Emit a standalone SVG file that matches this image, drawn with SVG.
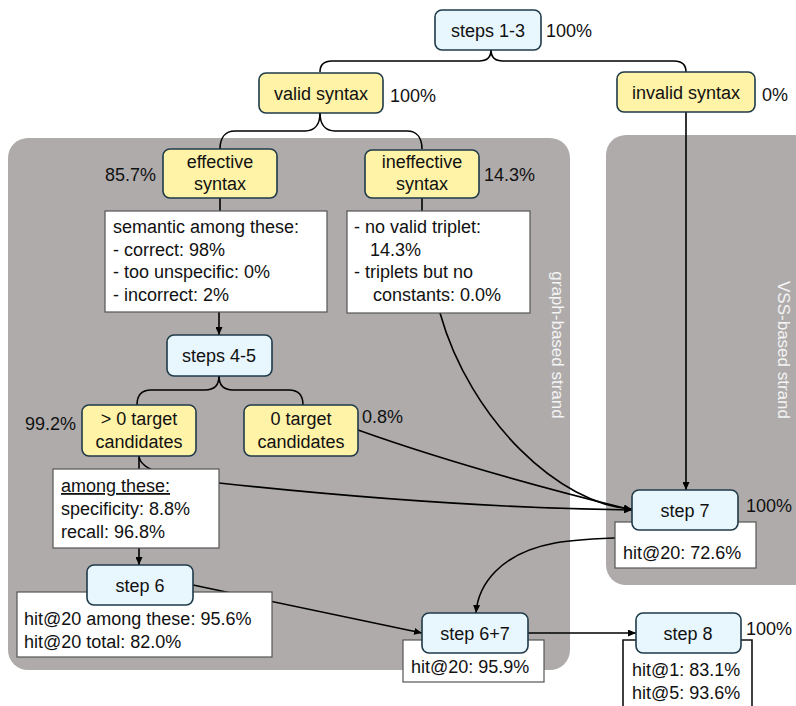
<svg xmlns="http://www.w3.org/2000/svg" width="796" height="706" viewBox="0 0 796 706">
<defs>
<marker id="arr" markerWidth="8" markerHeight="7" refX="8" refY="3.5" orient="auto" markerUnits="userSpaceOnUse"><path d="M0,0 L8,3.5 L0,7 z" fill="#000"/></marker>
<style>
text{font-family:"Liberation Sans",Arial,sans-serif;font-size:18px;fill:#111}
.node{stroke:#1f3a49;stroke-width:1.6}
.blue{fill:#e8f6fd}
.yel{fill:#fff3a8}
.box{fill:#fff;stroke:#555;stroke-width:1.2}
.panel{fill:#afabab}
.c{fill:none;stroke:#000;stroke-width:1.6}
.mid{text-anchor:middle}
.strand{fill:#f4f4f4;font-size:17px;text-anchor:middle}
</style>
</defs>
<rect width="796" height="706" fill="#fff"/>
<g id="panels">
<rect class="panel" x="8" y="138" width="562" height="532" rx="20"/>
<rect class="panel" x="606" y="135" width="210" height="450" rx="20"/>
<text class="strand" transform="translate(552,345) rotate(90)">graph-based strand</text>
<text class="strand" transform="translate(778,350) rotate(90)">VSS-based strand</text>
</g>
<g id="connectors">
<path class="c" d="M491,50 C491,58 487,61 479,61 H332 C324,61 320,65 320,72"/>
<path class="c" d="M491,50 C491,58 495,61 503,61 H674 C682,61 686,65 686,72"/>
<path class="c" d="M320,113 C320,124 315,131 305,131 H235 C225,131 220,138 220,149"/>
<path class="c" d="M320,113 C320,124 325,131 335,131 H407 C417,131 422,138 422,149"/>
<path class="c" d="M220,198 V211"/>
<path class="c" d="M422,198 V211"/>
<path class="c" d="M219,312 V335" marker-end="url(#arr)"/>
<path class="c" d="M219,376 C219,385 215,390 205,390 H151 C141,390 137,396 137,405"/>
<path class="c" d="M219,376 C219,385 223,390 233,390 H289 C299,390 303,396 303,405"/>
<path class="c" d="M139,456 V469"/>
<path class="c" d="M139,548 V565" marker-end="url(#arr)"/>
<path class="c" d="M686,112 V490" marker-end="url(#arr)"/>
<path class="c" d="M440,313 C470,420 560,505 632,509" marker-end="url(#arr)"/>
<path class="c" d="M139,456 C140,470 165,477 219,483 C330,495 480,508 632,510" marker-end="url(#arr)"/>
<path class="c" d="M358,430 Q470,470 632,510" marker-end="url(#arr)"/>
<path class="c" d="M685,531 C670,540 600,535 555,543 C500,553 478,585 476,613" marker-end="url(#arr)"/>
<path class="c" d="M193,585 L422,633" marker-end="url(#arr)"/>
<path class="c" d="M528,633 H636" marker-end="url(#arr)"/>
</g>
<g id="box-semantic">
<rect class="box" x="105" y="211" width="222" height="101"/>
<text x="113" y="233">semantic among these:</text>
<text x="113" y="256">- correct: 98%</text>
<text x="113" y="278">- too unspecific: 0%</text>
<text x="113" y="301">- incorrect: 2%</text>
</g>
<g id="box-ineffective">
<rect class="box" x="347" y="211" width="183" height="102"/>
<text x="354" y="233">- no valid triplet:</text>
<text x="370" y="256">14.3%</text>
<text x="354" y="278">- triplets but no</text>
<text x="373" y="301">constants: 0.0%</text>
</g>
<g id="box-among">
<rect class="box" x="53" y="469" width="166" height="79"/>
<text x="61" y="492" text-decoration="underline">among these:</text>
<text x="61" y="515">specificity: 8.8%</text>
<text x="61" y="538">recall: 96.8%</text>
</g>
<g id="box-hit6">
<rect class="box" x="17" y="592" width="255" height="65"/>
<text x="24" y="625">hit@20 among these: 95.6%</text>
<text x="24" y="648">hit@20 total: 82.0%</text>
</g>
<g id="box-hit67">
<rect class="box" x="403" y="640" width="141" height="42"/>
<text x="411" y="673">hit@20: 95.9%</text>
</g>
<g id="box-hit7">
<rect class="box" x="615" y="522" width="141" height="46"/>
<text x="623" y="559">hit@20: 72.6%</text>
</g>
<g id="box-hit8">
<path d="M623,706 V640 H752 V706" fill="#fff" stroke="#111" stroke-width="1.6"/>
<text x="632" y="676">hit@1: 83.1%</text>
<text x="632" y="699">hit@5: 93.6%</text>
</g>
<g id="steps13">
<rect class="node blue" x="435" y="10" width="106" height="40" rx="7"/>
<text class="mid" x="488" y="37">steps 1-3</text>
<text x="546" y="37">100%</text>
</g>
<g id="valid">
<rect class="node yel" x="259" y="73" width="124" height="40" rx="7"/>
<text class="mid" x="321" y="100">valid syntax</text>
<text x="390" y="102">100%</text>
</g>
<g id="invalid">
<rect class="node yel" x="617" y="72" width="138" height="40" rx="7"/>
<text class="mid" x="686" y="99">invalid syntax</text>
<text x="762" y="101">0%</text>
</g>
<g id="effective">
<rect class="node yel" x="163" y="149" width="114" height="49" rx="7"/>
<text class="mid" x="220" y="168">effective</text>
<text class="mid" x="220" y="190">syntax</text>
<text x="105" y="181">85.7%</text>
</g>
<g id="ineffective">
<rect class="node yel" x="365" y="150" width="114" height="48" rx="7"/>
<text class="mid" x="422" y="168">ineffective</text>
<text class="mid" x="422" y="190">syntax</text>
<text x="484" y="181">14.3%</text>
</g>
<g id="steps45">
<rect class="node blue" x="167" y="335" width="105" height="41" rx="7"/>
<text class="mid" x="219" y="362">steps 4-5</text>
</g>
<g id="gt0">
<rect class="node yel" x="82" y="405" width="114" height="51" rx="7"/>
<text class="mid" x="139" y="425">&gt; 0 target</text>
<text class="mid" x="139" y="448">candidates</text>
<text x="25" y="430">99.2%</text>
</g>
<g id="zero">
<rect class="node yel" x="244" y="405" width="114" height="51" rx="7"/>
<text class="mid" x="301" y="425">0 target</text>
<text class="mid" x="301" y="448">candidates</text>
<text x="362" y="423">0.8%</text>
</g>
<g id="step6">
<rect class="node blue" x="87" y="565" width="106" height="40" rx="7"/>
<text class="mid" x="140" y="592">step 6</text>
</g>
<g id="step67">
<rect class="node blue" x="422" y="613" width="106" height="40" rx="7"/>
<text class="mid" x="475" y="640">step 6+7</text>
</g>
<g id="step7">
<rect class="node blue" x="632" y="490" width="106" height="40" rx="7"/>
<text class="mid" x="685" y="517">step 7</text>
<text x="746" y="512">100%</text>
</g>
<g id="step8">
<rect class="node blue" x="636" y="613" width="105" height="40" rx="7"/>
<text class="mid" x="688" y="640">step 8</text>
<text x="746" y="635">100%</text>
</g>
</svg>
